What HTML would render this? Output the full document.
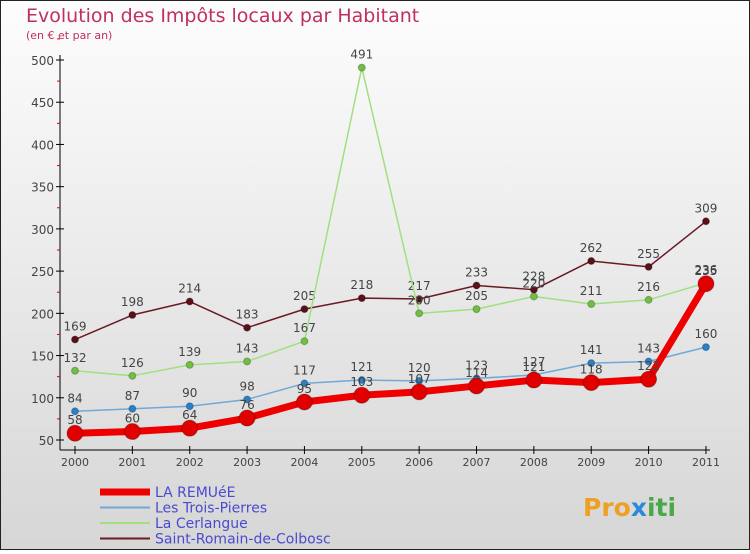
<!DOCTYPE html>
<html><head><meta charset="utf-8"><style>
body{margin:0}
#c{width:750px;height:550px;position:relative;font-family:"DejaVu Sans","Liberation Sans",sans-serif;}
</style></head><body>
<div id="c">
<svg id="s" width="750" height="550" xmlns="http://www.w3.org/2000/svg">
<defs><linearGradient id="bg" x1="0" y1="0" x2="0" y2="1"><stop offset="0" stop-color="#fdfdfd"/><stop offset="1" stop-color="#d6d6d6"/></linearGradient></defs>
<rect x="0.5" y="0.5" width="749" height="549" fill="url(#bg)" stroke="#222"/>
<text x="26" y="22" font-size="19" fill="#c0305a">Evolution des Impôts locaux par Habitant</text>
<text x="26" y="39" font-size="11" fill="#c0305a">(en € et par an)</text>
<g id="axes"></g><g id="series"></g><g id="legend"></g>
<text x="583" y="516" font-size="25" font-weight="bold" fill="#f0a020">Pro<tspan fill="#2a8ad8">x</tspan><tspan fill="#4aa84a">iti</tspan></text>
</svg></div>
<script>
const years=['2000','2001','2002','2003','2004','2005','2006','2007','2008','2009','2010','2011'];
const yTicks=[50,100,150,200,250,300,350,400,450,500];
const remuee=[58,60,64,76,95,103,107,114,121,118,122,235];
const troisPierres=[84,87,90,98,117,121,120,123,127,141,143,160];
const cerlangue=[132,126,139,143,167,491,200,205,220,211,216,236];
const stRomain=[169,198,214,183,205,218,217,233,228,262,255,309];
const seriesNames=['LA REMUéE','Les Trois-Pierres','La Cerlangue','Saint-Romain-de-Colbosc'];
const NS='http://www.w3.org/2000/svg';
const X=i=>75+i*57.36, Y=v=>440-(v-50)*380/450;
function mk(t,a,p){const e=document.createElementNS(NS,t);for(const k in a)e.setAttribute(k,a[k]);p.appendChild(e);return e;}
const ax=document.getElementById('axes');
let l=mk('line',{x1:60,y1:55,x2:60,y2:450,stroke:'#000'},ax);


l=mk('line',{x1:60,y1:450,x2:710,y2:450,stroke:'#000'},ax);


yTicks.forEach(v=>{mk('line',{x1:56,y1:Y(v),x2:64,y2:Y(v),stroke:'#000'},ax);
 mk('line',{x1:57,y1:Y(v+25),x2:60,y2:Y(v+25),stroke:'#d00'},ax);
 const t=mk('text',{x:54,y:Y(v)+5,'font-size':12,'text-anchor':'end',fill:'#444'},ax);t.textContent=v;
 
 });
years.forEach((y,i)=>{mk('line',{x1:X(i),y1:446,x2:X(i),y2:454,stroke:'#000'},ax);
 const t=mk('text',{x:X(i),y:466,'font-size':11,'text-anchor':'middle',fill:'#444'},ax);t.textContent=y;
 
 });
const sg=document.getElementById('series');
const defs=[[stRomain,'#6b1a24','#5a1018',1.5,3.5,'st-romain'],[cerlangue,'#a0e080','#70c040',1.5,3.5,'cerlangue'],[troisPierres,'#70a8d8','#2a80c8',1.5,3.5,'trois-pierres'],[remuee,'#ee0000','#e00000',7,8,'remuee']];
defs.forEach(([d,c,mc,w,r,n])=>{
 const p=mk('polyline',{points:d.map((v,i)=>X(i)+','+Y(v)).join(' '),fill:'none',stroke:c,'stroke-width':w,'stroke-linejoin':'round'},sg);
 
 
 d.forEach((v,i)=>{const m=mk('circle',{cx:X(i),cy:Y(v),r:r,fill:mc,stroke:'rgba(0,0,0,0.25)'},sg);
  
  
  const t=mk('text',{x:X(i),y:Y(v)-9,'font-size':12,'text-anchor':'middle',fill:'#444'},sg);t.textContent=v;
  
  });
});
const lg=document.getElementById('legend');
const lc=['#ee0000','#70a8d8','#a0e080','#6b1a24'],lw=[7,2,2,2];
seriesNames.forEach((s,i)=>{const y=492+i*15.5;
 const g=mk('g',{},lg);
 
 
 mk('line',{x1:100,y1:y,x2:150,y2:y,stroke:lc[i],'stroke-width':lw[i]},g);
 const t=mk('text',{x:155,y:y+5,'font-size':14,fill:'#4a4ad0'},g);t.textContent=s;});
</script></body></html>
